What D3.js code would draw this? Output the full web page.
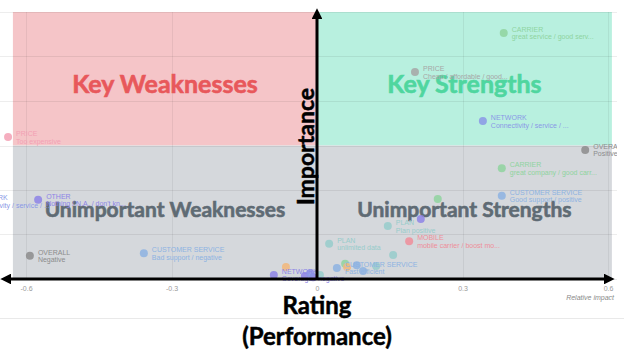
<!DOCTYPE html>
<html><head><meta charset="utf-8">
<script src="https://cdn.jsdelivr.net/npm/d3@7"></script>
<style>
html,body{margin:0;padding:0;background:#fff;}
svg{display:block;}
</style></head>
<body>
<svg id="chart" width="624" height="360"></svg>
<script>
// ---- data ----
const categories = ["PRICE","CARRIER","PRICE","NETWORK","OVERALL","CARRIER","CUSTOMER SERVICE","","","PLAN","MOBILE","PLAN","","","","","","","","","OTHER","NETWORK","OVERALL","CUSTOMER SERVICE","","NETWORK","","","CUSTOMER SERVICE"];
const notes = ["Too expensive","great service / good serv...","Cheap / affordable / good...","Connectivity / service / ...","Positive","great company / good carr...","Good support / positive","","","Plan positive","mobile carrier / boost mo...","unlimited data","","","","","","","","","Nothing / N.A. / don't kn...","Connectivity / service / ...","Negative","Bad support / negative","","Coverage / negative","","","Fast efficient"];
const rating = [-0.637,0.385,0.202,0.342,0.553,0.381,0.381,0.249,0.214,0.146,0.190,0.025,0.157,0.058,0.062,0.082,0.095,0.122,0.006,-0.008,-0.575,-0.728,-0.592,-0.357,-0.064,-0.089,-0.025,-0.014,0.041];
const importance = [0.319,0.553,0.465,0.355,0.290,0.249,0.187,0.180,0.135,0.119,0.085,0.079,0.054,0.034,0.027,0.031,0.018,0.029,0.009,0.004,0.178,0.175,0.052,0.058,0.027,0.009,0.007,0.013,0.025];
const hues = ["pink","green","gray","violet","dark","green","blue","green","purple","teal","red","teal","teal","green","orange","blue","blue","teal","teal","purple","purple","violet","dark","blue","orange","purple","purple","violet","blue"];
const xTicks = [-0.6,-0.3,0,0.3,0.6];
const xTickLabels = ["-0.6","-0.3","0","0.3","0.6"];
const yGrid = [0,0.1,0.2,0.3,0.4,0.5,0.6];
const quadrants = [
  {name:"Key Weaknesses", x:[-0.627,0], y:[0.3,0.6], fill:"#f5c5c8", text:"#e8585b", size:25, dy:14},
  {name:"Key Strengths", x:[0,0.608], y:[0.3,0.6], fill:"#b8f0df", text:"#4fd69f", size:25, dy:14},
  {name:"Unimportant Weaknesses", x:[-0.627,0], y:[0,0.3], fill:"#d5d8dc", text:"#5f6b74", size:21, dy:5},
  {name:"Unimportant Strengths", x:[0,0.608], y:[0,0.3], fill:"#d5d8dc", text:"#5f6b74", size:21, dy:5}
];
const palette = {green:"#8fd49f", gray:"#a6a6a6", violet:"#8a98e6", dark:"#8c8c8c", blue:"#8db3e2",
  teal:"#97cccb", red:"#ee8e9a", purple:"#8d84e6", orange:"#f2b77a", pink:"#f3a0b4"};

// ---- layout ----
const svg = d3.select("#chart");
const x = d3.scaleLinear().domain([-0.6,0.6]).range([26,608]);
const y = d3.scaleLinear().domain([0,0.6]).range([279,12]);
const font = "'Liberation Sans', Arial, sans-serif";
const lato = "Lato, 'Open Sans', sans-serif";

// bottom separator
svg.append("line").attr("x1",0).attr("x2",624).attr("y1",318.5).attr("y2",318.5)
  .attr("stroke","#e9e9e9").attr("stroke-width",1);

// quadrant fills
svg.append("g").selectAll("rect").data(quadrants).join("rect")
  .attr("x", d=>x(d.x[0])).attr("width", d=>x(d.x[1])-x(d.x[0]))
  .attr("y", d=>y(d.y[1])).attr("height", d=>y(d.y[0])-y(d.y[1]))
  .attr("fill", d=>d.fill);

// grid
const grid = svg.append("g");
grid.selectAll(".h").data(yGrid).join("line")
  .attr("x1",0).attr("x2",617)
  .attr("y1",d=>Math.round(y(d))+0.5).attr("y2",d=>Math.round(y(d))+0.5)
  .attr("stroke","rgba(0,0,0,0.07)");
grid.selectAll(".v").data(xTicks).join("line")
  .attr("y1",y(0.6)).attr("y2",y(0))
  .attr("x1",d=>Math.round(x(d))+0.5).attr("x2",d=>Math.round(x(d))+0.5)
  .attr("stroke","rgba(0,0,0,0.06)");

// quadrant labels
svg.append("g").selectAll("text").data(quadrants).join("text")
  .attr("x", d=>(x(d.x[0])+x(d.x[1]))/2)
  .attr("y", d=>(y(d.y[0])+y(d.y[1]))/2 + d.dy)
  .attr("text-anchor","middle")
  .attr("font-family",lato).attr("font-weight",700).attr("font-size",d=>d.size)
  .attr("fill", d=>d.text).attr("stroke", d=>d.text).attr("stroke-width",0.6)
  .text(d=>d.name);

// x axis tick labels
const axis = d3.axisBottom(x).tickValues(xTicks).tickFormat((d,i)=>xTickLabels[i]).tickSize(0).tickPadding(7);
const ag = svg.append("g").attr("transform",`translate(0,${y(0)})`).call(axis);
ag.select(".domain").remove();
ag.selectAll("text").attr("font-family",font).attr("font-size",7).attr("fill","#9a9a9a");

svg.append("text").attr("x",614).attr("y",300).attr("text-anchor","end")
  .attr("font-family",font).attr("font-size",7).attr("font-style","italic").attr("fill","#8a8a8a")
  .text("Relative impact");

// points
const clip = svg.append("clipPath").attr("id","clip");
clip.append("rect").attr("x",0).attr("y",0).attr("width",617).attr("height",300);
const pts = rating.map((r,i)=>({r, imp:importance[i], cat:categories[i], note:notes[i], hue:hues[i]}));
const pg = svg.append("g").attr("clip-path","url(#clip)");
pg.selectAll("circle").data(pts).join("circle")
  .attr("cx",d=>x(d.r)).attr("cy",d=>y(d.imp)).attr("r",4)
  .attr("fill",d=>palette[d.hue]).attr("fill-opacity",0.85);
const lg = pg.selectAll("g.lab").data(pts.filter(d=>d.cat)).join("g").attr("class","lab")
  .attr("font-family",font).attr("font-size",7).attr("fill",d=>palette[d.hue]);
lg.append("text").attr("x",d=>x(d.r)+8).attr("y",d=>y(d.imp)-1).text(d=>d.cat);
lg.append("text").attr("x",d=>x(d.r)+8).attr("y",d=>y(d.imp)+6.5).text(d=>d.note);

// axis arrows
const defs = svg.append("defs");
defs.append("marker").attr("id","arr").attr("viewBox","0 0 10 10").attr("refX",2).attr("refY",5)
  .attr("markerWidth",3.6).attr("markerHeight",3.6).attr("orient","auto-start-reverse")
  .attr("markerUnits","strokeWidth")
  .append("path").attr("d","M0,0 L10,5 L0,10 Z").attr("fill","#000");
svg.append("line").attr("x1",x(-0.6)-17).attr("x2",x(0.6)-2).attr("y1",y(0)).attr("y2",y(0))
  .attr("stroke","#000").attr("stroke-width",3)
  .attr("marker-start","url(#arr)").attr("marker-end","url(#arr)");
svg.append("line").attr("x1",x(0)).attr("x2",x(0)).attr("y1",y(0)).attr("y2",y(0.6)+5)
  .attr("stroke","#000").attr("stroke-width",3)
  .attr("marker-end","url(#arr)");

// axis titles
const titleStyle = s => s.attr("font-family",lato).attr("font-weight",700).attr("font-size",24)
  .attr("fill","#000").attr("stroke","#000").attr("stroke-width",0.5).attr("text-anchor","middle");
svg.append("text").attr("transform",`translate(${x(0)-3},${(y(0)+y(0.6))/2+1}) rotate(-90)`)
  .call(titleStyle).attr("font-size",23).text("Importance");
svg.append("text").attr("x",x(0)).attr("y",314).call(titleStyle).text("Rating");
svg.append("text").attr("x",x(0)).attr("y",345).call(titleStyle).text("(Performance)");
</script>
</body></html>
